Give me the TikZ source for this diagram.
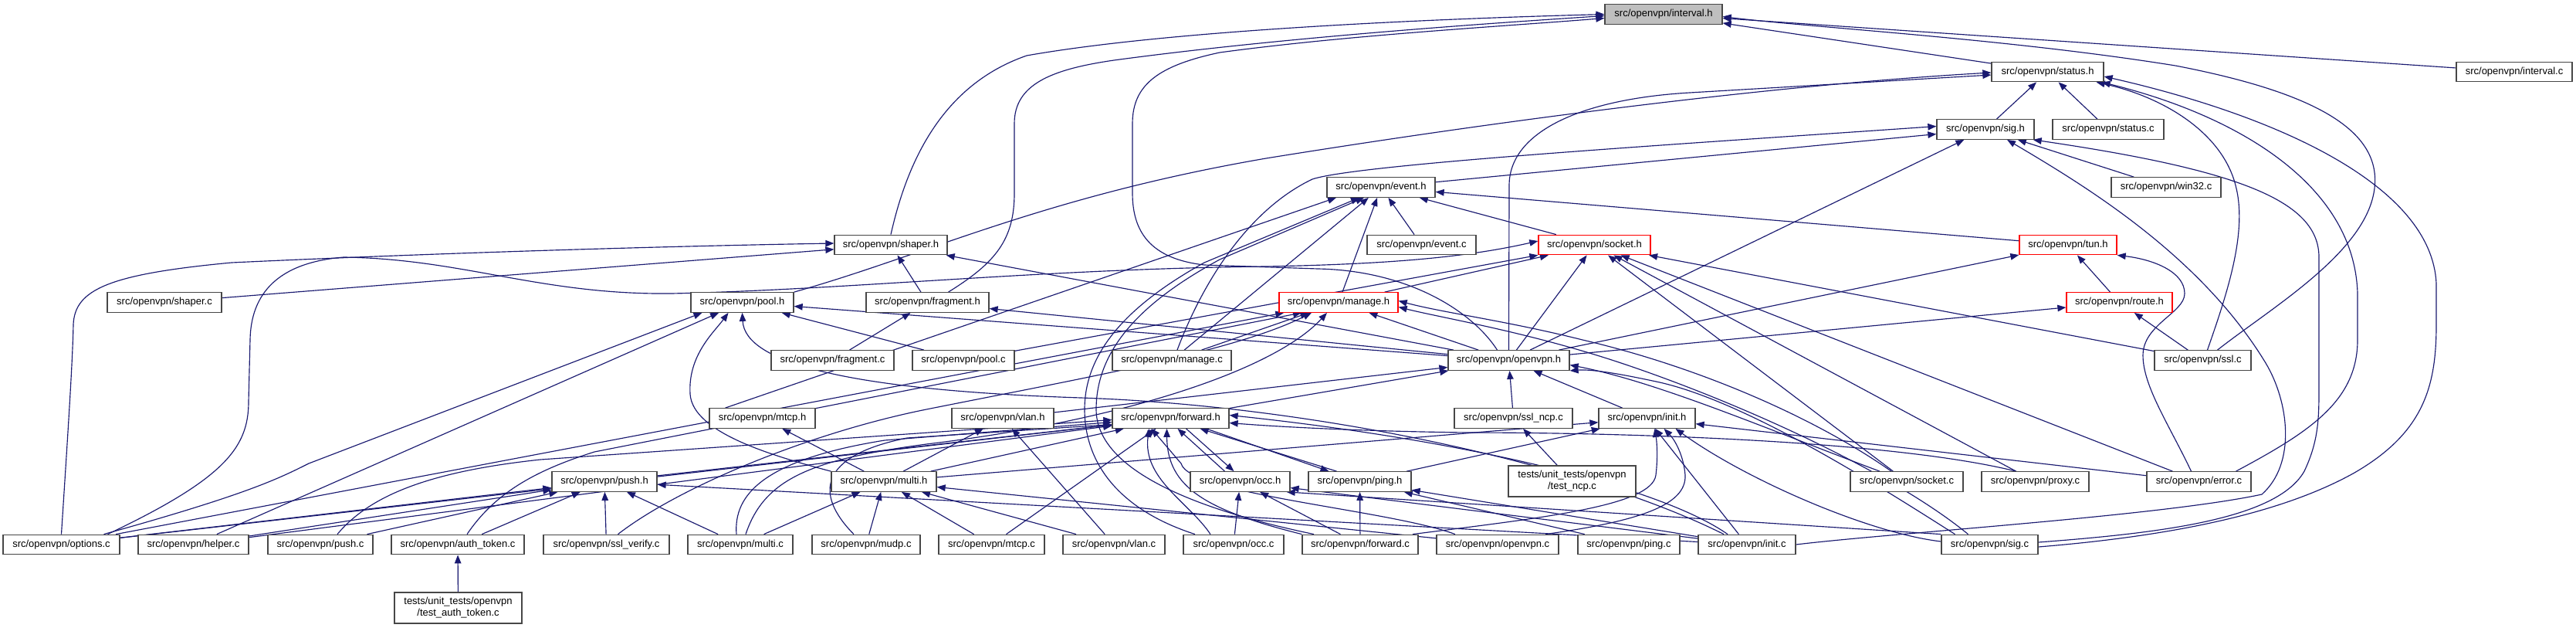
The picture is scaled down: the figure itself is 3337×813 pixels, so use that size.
\documentclass[tikz,border=0pt]{standalone}
\usepackage{fontspec}
\setmainfont{Liberation Sans}
\usetikzlibrary{arrows.meta}
\pgfdeclarelayer{bg}
\pgfsetlayers{bg,main}
\definecolor{edgeblue}{RGB}{25,25,112}
\definecolor{boxgray}{RGB}{191,191,191}
\begin{document}
\begin{tikzpicture}[x=1pt,y=-1pt,
  box/.style={draw=black!72, line width=1.3pt, fill=white, inner sep=0pt, minimum height=25.5pt, font=\fontsize{13}{15}\selectfont},
  redbox/.style={box, draw=red},
  e/.style={draw=edgeblue, line width=1.15pt, -{Triangle[length=11pt,width=8.5pt]}}]
\useasboundingbox (0,0) rectangle (3337,813);
% ---------- nodes ----------
\node[box, fill=boxgray, minimum width=152pt] (intervalh) at (2155,18.5) {src/openvpn/interval.h};
\node[box, minimum width=145pt] (statush) at (2652.5,93) {src/openvpn/status.h};
\node[box, minimum width=150pt] (intervalc) at (3257,93) {src/openvpn/interval.c};
\node[box, minimum width=126pt] (sigh) at (2572,167.5) {src/openvpn/sig.h};
\node[box, minimum width=144pt] (statusc) at (2731,167.5) {src/openvpn/status.c};
\node[box, minimum width=140pt] (eventh) at (1789,242.5) {src/openvpn/event.h};
\node[box, minimum width=142pt] (win32c) at (2806,242.5) {src/openvpn/win32.c};
\node[box, minimum width=146pt] (shaperh) at (1154,317) {src/openvpn/shaper.h};
\node[box, minimum width=141pt] (eventc) at (1841.5,317) {src/openvpn/event.c};
\node[redbox, minimum width=145pt] (socketh) at (2065.5,317) {src/openvpn/socket.h};
\node[redbox, minimum width=126pt] (tunh) at (2679,317) {src/openvpn/tun.h};
\node[box, minimum width=148pt] (shaperc) at (213,391.5) {src/openvpn/shaper.c};
\node[box, minimum width=133pt] (poolh) at (961.5,391.5) {src/openvpn/pool.h};
\node[box, minimum width=159pt] (fragmenth) at (1201.5,391.5) {src/openvpn/fragment.h};
\node[redbox, minimum width=154pt] (manageh) at (1734,391.5) {src/openvpn/manage.h};
\node[redbox, minimum width=137pt] (routeh) at (2745.5,391.5) {src/openvpn/route.h};
\node[box, minimum width=159pt] (fragmentc) at (1078.5,466.5) {src/openvpn/fragment.c};
\node[box, minimum width=132pt] (poolc) at (1248,466.5) {src/openvpn/pool.c};
\node[box, minimum width=154pt] (managec) at (1518,466.5) {src/openvpn/manage.c};
\node[box, minimum width=157pt] (openvpnh) at (1954.5,466.5) {src/openvpn/openvpn.h};
\node[box, minimum width=125pt] (sslc) at (2853.5,466.5) {src/openvpn/ssl.c};
\node[box, minimum width=137pt] (mtcph) at (987.5,541.5) {src/openvpn/mtcp.h};
\node[box, minimum width=132pt] (vlanh) at (1299,541.5) {src/openvpn/vlan.h};
\node[box, minimum width=151pt] (forwardh) at (1516.5,541.5) {src/openvpn/forward.h};
\node[box, minimum width=153pt] (sslncpc) at (1960.5,541.5) {src/openvpn/ssl\_ncp.c};
\node[box, minimum width=125pt] (inith) at (2133.5,541.5) {src/openvpn/init.h};
\node[box, minimum width=136pt] (pushh) at (783,623.5) {src/openvpn/push.h};
\node[box, minimum width=136pt] (multih) at (1145,623.5) {src/openvpn/multi.h};
\node[box, minimum width=129pt] (occh) at (1606.5,623.5) {src/openvpn/occ.h};
\node[box, minimum width=133pt] (pingh) at (1761.5,623.5) {src/openvpn/ping.h};
\node[box, minimum width=165pt, minimum height=40pt, align=center] (testncpc) at (2036.5,623) {tests/unit\_tests/openvpn\\/test\_ncp.c};
\node[box, minimum width=146pt] (socketc) at (2470,623.5) {src/openvpn/socket.c};
\node[box, minimum width=139pt] (proxyc) at (2636.5,623.5) {src/openvpn/proxy.c};
\node[box, minimum width=135pt] (errorc) at (2848.5,623.5) {src/openvpn/error.c};
\node[box, minimum width=151pt] (optionsc) at (79.5,705) {src/openvpn/options.c};
\node[box, minimum width=143pt] (helperc) at (250.5,705) {src/openvpn/helper.c};
\node[box, minimum width=136pt] (pushc) at (415,705) {src/openvpn/push.c};
\node[box, minimum width=172pt] (authtokenc) at (593,705) {src/openvpn/auth\_token.c};
\node[box, minimum width=163pt] (sslverifyc) at (785.5,705) {src/openvpn/ssl\_verify.c};
\node[box, minimum width=136pt] (multic) at (959,705) {src/openvpn/multi.c};
\node[box, minimum width=140pt] (mudpc) at (1122,705) {src/openvpn/mudp.c};
\node[box, minimum width=137pt] (mtcpc) at (1284.5,705) {src/openvpn/mtcp.c};
\node[box, minimum width=132pt] (vlanc) at (1443,705) {src/openvpn/vlan.c};
\node[box, minimum width=130pt] (occc) at (1598,705) {src/openvpn/occ.c};
\node[box, minimum width=150pt] (forwardc) at (1762,705) {src/openvpn/forward.c};
\node[box, minimum width=158pt] (openvpnc) at (1940,705) {src/openvpn/openvpn.c};
\node[box, minimum width=132pt] (pingc) at (2110,705) {src/openvpn/ping.c};
\node[box, minimum width=126pt] (initc) at (2263,705) {src/openvpn/init.c};
\node[box, minimum width=125pt] (sigc) at (2577.5,705) {src/openvpn/sig.c};
\node[box, minimum width=165pt, minimum height=40pt, align=center] (testauthtokenc) at (593.5,787) {tests/unit\_tests/openvpn\\/test\_auth\_token.c};
% ---------- edges ----------
\begin{pgfonlayer}{bg}
\fill[white] (0,0) rectangle (3337,813);
% straight edges
\foreach \c/\p in {statush/intervalh, intervalc/intervalh,
  sigh/statush, statusc/statush,
  eventh/sigh, win32c/sigh, openvpnh/sigh,
  eventc/eventh, socketh/eventh, tunh/eventh, manageh/eventh, managec/eventh,
  shaperc/shaperh, fragmenth/shaperh, openvpnh/shaperh,
  manageh/socketh, openvpnh/socketh, sslc/socketh, poolc/socketh, socketc/socketh, proxyc/socketh, errorc/socketh,
  routeh/tunh, openvpnh/tunh,
  poolc/poolh, openvpnh/poolh, helperc/poolh,
  fragmentc/fragmenth, openvpnh/fragmenth,
  managec/manageh, openvpnh/manageh, optionsc/manageh,
  openvpnh/routeh, sslc/routeh,
  vlanh/openvpnh, forwardh/openvpnh, sslncpc/openvpnh, inith/openvpnh,
  pushh/forwardh, multih/forwardh, optionsc/forwardh, helperc/forwardh, mtcpc/forwardh,
  multic/multih, mudpc/multih, mtcpc/multih, vlanc/multih, openvpnc/multih,
  optionsc/pushh, helperc/pushh, pushc/pushh, authtokenc/pushh, sslverifyc/pushh, multic/pushh, initc/pushh,
  occc/occh, forwardc/occh, initc/occh,
  forwardc/pingh, pingc/pingh, initc/pingh,
  pingh/inith, multih/inith, errorc/inith, initc/inith,
  testncpc/sslncpc, testauthtokenc/authtokenc,
  multih/vlanh, vlanc/vlanh, multih/mtcph}
  {\draw[e] (\c) -- (\p);}
% explicit anchors
\draw[e] ([xshift=-48]mtcph.north) -- ([xshift=-58]eventh.south);
\draw[e] ([xshift=-20]occh.north) -- ([xshift=9]forwardh.south);
\draw[e] ([xshift=20]forwardh.south) -- ([xshift=-8]occh.north);
\draw[e] ([xshift=-30]pingh.north) -- ([xshift=38]forwardh.south);
\draw[e] ([xshift=46]forwardh.south) -- ([xshift=-40]pingh.north);
\draw[e] (sigc.north west) -- ([xshift=-5]occh.south east);
% curved edges into interval.h
\draw[e] (shaperh.north) .. controls (1175,210) and (1220,110) .. (1330,72) .. controls (1500,42) and (1800,26) .. (intervalh.west);
\draw[e] ([xshift=27]fragmenth.north) .. controls (1290,340) and (1314,310) .. (1314,250) -- (1314,160) .. controls (1314,110) and (1360,90) .. (1443,78) .. controls (1650,50) and (1900,32) .. ([yshift=-2]intervalh.west);
\draw[e] ([xshift=-15]openvpnh.north) .. controls (1905,400) and (1820,350) .. (1707,348) -- (1560,343) .. controls (1490,335) and (1467,300) .. (1467,250) -- (1467,160) .. controls (1467,110) and (1500,85) .. (1580,68) .. controls (1750,45) and (1950,34) .. ([yshift=-5]intervalh.west);
\draw[e] ([xshift=19]sslc.north) .. controls (2940,400) and (3060,330) .. (3075,250) .. controls (3090,170) and (3000,120) .. (2818,85) .. controls (2600,50) and (2350,36) .. ([yshift=-3]intervalh.east);
% into status.h
\draw[e] (openvpnh.north) -- (1955,240) .. controls (1955,170) and (2050,128) .. (2189,120) -- ([yshift=-4]statush.west);
\draw[e] (poolh.north east) .. controls (1200,330) and (1350,255) .. (1640,205) .. controls (1950,155) and (2300,110) .. ([yshift=-1]statush.west);
\draw[e] ([xshift=6]sslc.north) .. controls (2885,380) and (2912,300) .. (2896,240) .. controls (2878,170) and (2800,125) .. ([xshift=-10]statush.south east);
\draw[e] ([xshift=48]errorc.north) .. controls (2990,560) and (3054,520) .. (3054,440) -- (3054,380) .. controls (3050,240) and (2900,150) .. ([xshift=-3]statush.south east);
\draw[e] ([yshift=-3]sigc.east) .. controls (2800,695) and (2950,668) .. (3050,612) .. controls (3140,560) and (3156,500) .. (3156,420) -- (3156,367) .. controls (3150,240) and (2950,150) .. ([yshift=-6]statush.east);
% into sig.h
\draw[e] ([yshift=3]sigc.east) .. controls (2800,690) and (2950,672) .. (2985,610) .. controls (3004,570) and (3004,540) .. (3004,500) -- (3004,333) .. controls (3004,260) and (2900,220) .. ([xshift=-2]sigh.south east);
\draw[e] (initc.east) .. controls (2450,690) and (2800,668) .. (2930,640) .. controls (2975,600) and (2965,520) .. (2935,470) .. controls (2850,330) and (2700,240) .. ([xshift=28]sigh.south);
\draw[e] ([xshift=7]managec.north) .. controls (1560,360) and (1620,270) .. (1700,232) .. controls (1760,212) and (2200,185) .. ([yshift=4]sigh.west);
% into event.h
\draw[e] ([xshift=-50]occc.north) .. controls (1450,660) and (1405,600) .. (1405,530) .. controls (1405,450) and (1470,390) .. (1560,340) -- ([xshift=-28]eventh.south);
\draw[e] ([xshift=-60]forwardc.north) .. controls (1560,662) and (1420,612) .. (1420,530) .. controls (1420,445) and (1490,385) .. (1580,336) -- ([xshift=-22]eventh.south);
% shaper.h / socket.h from options.c
\draw[e] (optionsc.north) .. controls (88,560) and (94,470) .. (95,420) .. controls (97,375) and (140,355) .. (300,340) .. controls (600,326) and (900,318) .. ([yshift=2]shaperh.west);
\draw[e] ([xshift=60]optionsc.north) .. controls (290,620) and (322,580) .. (322,520) -- (324,440) .. controls (325,380) and (360,340) .. (445,333) .. controls (600,335) and (700,382) .. (870,380) .. controls (1100,375) and (1350,348) .. (1640,345) .. controls (1800,342) and (1900,333) .. ([yshift=5]socketh.west);
% pool.h
\draw[e] (multih.north west) .. controls (1000,590) and (897,560) .. (894,510) .. controls (891,460) and (925,430) .. ([xshift=-18]poolh.south);
\draw[e] ([xshift=-30]initc.north) .. controls (2050,600) and (1700,525) .. (1400,515) .. controls (1100,505) and (965,470) .. (poolh.south);
\draw[e] ([xshift=55]optionsc.north) .. controls (320,640) and (360,620) .. (400,600) -- ([xshift=-52]poolh.south);
% tun.h from error.c
\draw[e] ([xshift=-10]errorc.north) .. controls (2810,550) and (2776,500) .. (2776,460) .. controls (2776,420) and (2830,405) .. (2830,380) .. controls (2830,352) and (2790,336) .. (tunh.south east);
% manage.h
\draw[e] ([xshift=15]sslverifyc.north) .. controls (880,630) and (1050,560) .. (1200,530) .. controls (1400,490) and (1600,455) .. ([xshift=-35]manageh.south);
\draw[e] ([xshift=7]multic.north) .. controls (990,620) and (1050,595) .. (1200,575) .. controls (1450,545) and (1650,480) .. ([xshift=-15]manageh.south);
\draw[e] ([xshift=12]authtokenc.north) .. controls (640,640) and (690,610) .. (770,585) -- ([xshift=-48]manageh.south);
\draw[e] ([xshift=-20]socketc.north) .. controls (2350,540) and (2200,475) .. (2050,440) .. controls (1950,415) and (1870,405) .. ([yshift=2]manageh.east);
\draw[e] ([xshift=-28]sigc.north) .. controls (2450,610) and (2250,520) .. (2100,470) .. controls (1980,430) and (1870,412) .. ([yshift=-6]manageh.east);
% openvpn.h
\draw[e] ([xshift=-45]sigc.north) .. controls (2420,620) and (2260,520) .. (2150,495) .. controls (2090,482) and (2060,478) .. (openvpnh.south east);
\draw[e] ([xshift=-35]socketc.north) .. controls (2300,560) and (2150,495) .. ([yshift=-6]openvpnh.east);
% forward.h
\draw[e] ([xshift=22]pushc.north) .. controls (480,640) and (560,610) .. (700,595) -- ([yshift=-2]forwardh.west);
\draw[e] ([xshift=-5]multic.north) .. controls (950,640) and (990,595) .. (1146,570) -- ([yshift=-5]forwardh.west);
\draw[e] ([xshift=-16]mudpc.north) .. controls (1055,640) and (1060,590) .. (1175,567) -- ([yshift=-8]forwardh.west);
\draw[e] ([xshift=-55]openvpnc.north) .. controls (1800,660) and (1540,640) .. (1530,600) -- ([xshift=-25]forwardh.south);
\draw[e] (forwardc.north west) .. controls (1560,660) and (1512,630) .. ([xshift=-5]forwardh.south);
\draw[e] ([xshift=-30]occc.north) .. controls (1540,650) and (1480,620) .. ([xshift=-28]forwardh.south);
\draw[e] ([xshift=-25]initc.north) .. controls (2150,630) and (1900,570) .. ([yshift=4]forwardh.east);
\draw[e] ([xshift=-25]proxyc.north) .. controls (2450,570) and (2100,560) .. (1900,560) .. controls (1750,558) and (1650,552) .. ([yshift=-6]forwardh.east);
% init.h
\draw[e] ([xshift=68]forwardc.north) .. controls (2000,670) and (2140,655) .. (2145,615) .. controls (2148,590) and (2146,570) .. ([xshift=10]inith.south);
\draw[e] ([xshift=62]openvpnc.north) .. controls (2120,675) and (2185,655) .. (2183,615) .. controls (2181,590) and (2170,570) .. ([xshift=22]inith.south);
\draw[e] ([yshift=4]sigc.west) .. controls (2420,690) and (2260,620) .. ([xshift=37]inith.south);
\end{pgfonlayer}
\end{tikzpicture}
\end{document}
